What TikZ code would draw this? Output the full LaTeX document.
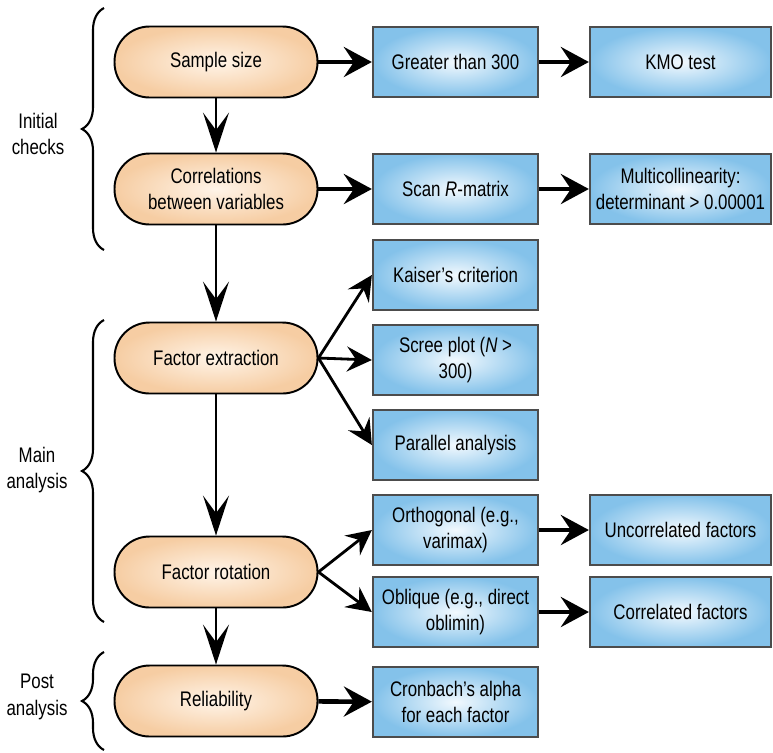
\documentclass[tikz,border=0pt]{standalone}
\usepackage{fontspec}
\setmainfont{Liberation Sans}[FakeStretch=0.8]
\usetikzlibrary{arrows.meta,decorations.pathreplacing}

\definecolor{peach}{HTML}{F6CDA3}
\definecolor{peachlight}{HTML}{FFF4E8}
\definecolor{skyblue}{HTML}{84C2EA}
\definecolor{skylight}{HTML}{F2F9FE}

\begin{document}
\begin{tikzpicture}[x=0.02cm, y=-0.02cm,
  stage/.style = {draw, line width=1.1pt, rounded corners=0.7cm,
                  minimum width=4.06cm, minimum height=1.42cm,
                  inner color=peachlight, outer color=peach, align=center},
  task/.style = {draw=black!70, line width=1.3pt, inner xsep=2pt,
                 minimum width=3.3cm, minimum height=1.4cm,
                 inner color=skylight, outer color=skyblue, align=center},
  widetask/.style = {task, minimum width=3.62cm},
  down/.style = {-{Stealth[length=0.8cm, width=0.52cm, inset=0.35cm]}, line width=1.1pt},
  across/.style = {-{Stealth[length=0.56cm, width=0.6cm, inset=0.2cm]}, line width=2.6pt},
  fan/.style = {-{Stealth[length=0.5cm, width=0.5cm, inset=0.18cm]}, line width=1.6pt},
  group/.style = {decorate, decoration={brace, amplitude=0.44cm}, line width=1.2pt},
  every node/.style = {font=\fontsize{12}{15}\selectfont},
  ]
  \useasboundingbox (0,0) rectangle (773,752);

  % left column
  \node[stage] (sample) at (216,62)  {Sample size};
  \node[stage] (corr)   at (216,189) {Correlations\\between variables};
  \node[stage] (extr)   at (216,358) {Factor extraction};
  \node[stage] (rot)    at (216,572) {Factor rotation};
  \node[stage] (rel)    at (216,701) {Reliability};

  % middle column
  \node[task] (greater)  at (455.5,62)  {Greater than 300};
  \node[task] (scan)     at (455.5,189) {Scan \textit{R}-matrix};
  \node[task] (kaiser)   at (455.5,275) {Kaiser's criterion};
  \node[task] (scree)    at (455.5,360) {Scree plot (\textit{N} >\\300)};
  \node[task] (parallel) at (455.5,445) {Parallel analysis};
  \node[task] (ortho)    at (455.5,530) {Orthogonal (e.g.,\\varimax)};
  \node[task] (oblique)  at (455.5,612) {Oblique (e.g., direct\\oblimin)};
  \node[task] (cronbach) at (455.5,702) {Cronbach's alpha\\for each factor};

  % right column
  \node[widetask] (kmo)    at (680.5,62)  {KMO test};
  \node[widetask] (multi)  at (680.5,189) {Multicollinearity:\\determinant > 0.00001};
  \node[widetask] (uncorr) at (680.5,530) {Uncorrelated factors};
  \node[widetask] (correl) at (680.5,612) {Correlated factors};

  % stage labels
  \node[align=center] (initial) at (38,134) {Initial\\checks};
  \node[align=center] (main)    at (37,470) {Main\\analysis};
  \node[align=center] (post)    at (37,697) {Post\\analysis};
  \draw[group] (104,250) -- (104,8);
  \draw[group] (104,622) -- (104,320);
  \draw[group] (104,750) -- (104,652);

  \draw[down] (sample) -- (corr);
  \draw[down] (corr) -- (extr);
  \draw[down] (extr) -- (rot);
  \draw[down] (rot) -- (rel);

  \draw[across] (sample) -- (greater);
  \draw[across] (greater) -- (kmo);
  \draw[across] (corr) -- (scan);
  \draw[across] (scan) -- (multi);
  \draw[across] (ortho) -- (uncorr);
  \draw[across] (oblique) -- (correl);
  \draw[across] (rel) -- (cronbach);

  \draw[fan] (extr.east) -- (kaiser.west);
  \draw[fan] (extr.east) -- (scree.west);
  \draw[fan] (extr.east) -- (parallel.west);
  \draw[fan] (rot.east) -- (ortho.west);
  \draw[fan] (rot.east) -- (oblique.west);
\end{tikzpicture}
\end{document}
